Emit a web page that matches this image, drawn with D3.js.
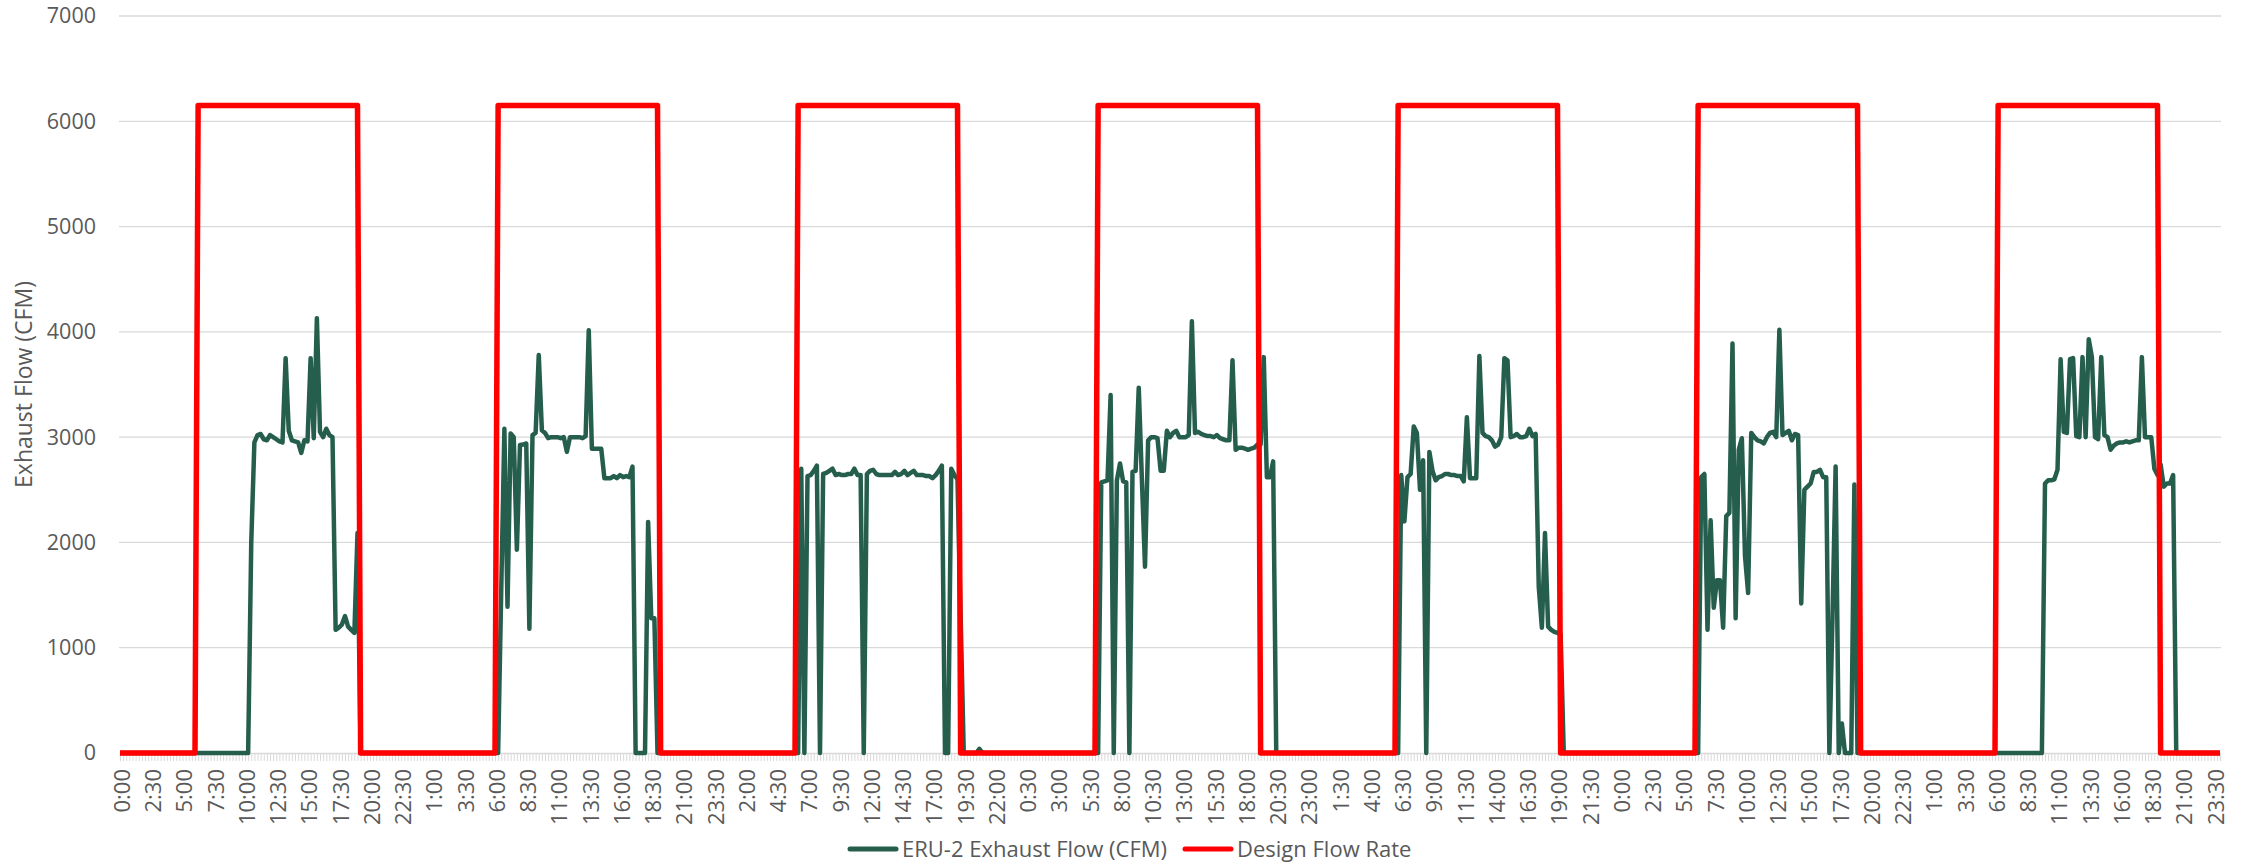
<!DOCTYPE html>
<html>
<head>
<meta charset="utf-8">
<script src="https://cdn.jsdelivr.net/npm/d3@7"></script>
<style>
  body { margin: 0; background: #fff; }
  text { font-family: "Open Sans", sans-serif; fill: #595959; }
</style>
</head>
<body>
<div id="chart"></div>
<script>

// ERU-2 exhaust flow, 15 minute readings, one array per day (96 values)
var flowDay1 = [
  0,0,0,0,0,0,0,0,0,0,0,0,0,0,0,0,0,0,0,0,0,0,0,0,
  0,0,0,0,0,0,0,0,0,0,0,0,0,0,0,0,0,0,2000,2950,3020,3030,2980,2970,
  3020,3000,2980,2960,2950,3750,3060,2970,2960,2950,2850,2970,2960,3750,2990,4130,3050,3000,3080,3020,3000,1170,1190,1220,
  1300,1200,1170,1140,2090,0,0,0,0,0,0,0,0,0,0,0,0,0,0,0,0,0,0,0
];
var flowDay2 = [
  0,0,0,0,0,0,0,0,0,0,0,0,0,0,0,0,0,0,0,0,0,0,0,0,
  0,0,1550,3080,1390,3035,3000,1930,2925,2930,2940,1180,3020,3040,3780,3065,3040,2990,3000,3000,3000,2990,3000,2860,
  3000,3000,3000,3000,2990,3010,4015,2890,2890,2890,2890,2610,2610,2610,2630,2610,2640,2620,2630,2620,2720,0,0,0,
  0,2195,1280,1280,0,0,0,0,0,0,0,0,0,0,0,0,0,0,0,0,0,0,0,0
];
var flowDay3 = [
  0,0,0,0,0,0,0,0,0,0,0,0,0,0,0,0,0,0,0,0,0,0,0,0,
  0,0,2700,0,2630,2640,2680,2730,0,2650,2660,2680,2700,2640,2650,2640,2640,2650,2650,2700,2640,2640,0,2650,
  2680,2690,2650,2640,2640,2640,2640,2640,2670,2640,2650,2680,2640,2660,2680,2640,2640,2640,2630,2630,2610,2640,2680,2730,
  0,0,2700,2640,2600,1300,0,0,0,0,0,40,0,0,0,0,0,0,0,0,0,0,0,0
];
var flowDay4 = [
  0,0,0,0,0,0,0,0,0,0,0,0,0,0,0,0,0,0,0,0,0,0,0,0,
  0,0,2570,2580,2590,3400,0,2590,2750,2580,2570,0,2670,2680,3470,2600,1770,2970,3000,3000,2990,2680,2680,3060,
  3000,3040,3060,3000,3000,3000,3020,4100,3040,3050,3030,3020,3010,3010,3000,3020,2990,2980,2970,2970,3730,2880,2900,2900,
  2890,2880,2890,2900,2930,2930,3760,2620,2620,2770,0,0,0,0,0,0,0,0,0,0,0,0,0,0
];
var flowDay5 = [
  0,0,0,0,0,0,0,0,0,0,0,0,0,0,0,0,0,0,0,0,0,0,0,0,
  0,0,2640,2200,2620,2650,3100,3040,2500,2780,0,2860,2680,2590,2620,2630,2650,2650,2640,2640,2630,2630,2580,3190,
  2610,2610,2610,3770,3040,3010,3000,2970,2910,2930,3000,3750,3730,3000,3010,3030,3000,3000,3010,3080,3010,3030,1580,1190,
  2090,1200,1170,1150,1140,1130,0,0,0,0,0,0,0,0,0,0,0,0,0,0,0,0,0,0
];
var flowDay6 = [
  0,0,0,0,0,0,0,0,0,0,0,0,0,0,0,0,0,0,0,0,0,0,0,0,
  0,0,2620,2650,1170,2210,1380,1640,1640,1190,2250,2280,3890,1280,2880,2990,1870,1520,3040,3000,2970,2960,2940,3000,
  3040,3050,3000,4020,3020,3040,3060,2970,3030,3020,1420,2500,2530,2560,2670,2670,2690,2620,2620,0,1300,2720,0,280,
  0,0,0,2550,0,0,0,0,0,0,0,0,0,0,0,0,0,0,0,0,0,0,0,0
];
var flowDay7 = [
  0,0,0,0,0,0,0,0,0,0,0,0,0,0,0,0,0,0,0,0,0,0,0,0,
  0,0,0,0,0,0,0,0,0,0,0,0,0,0,0,0,2560,2590,2590,2600,2690,3740,3050,3040,
  3740,3750,3010,3000,3760,3000,3930,3760,3000,2980,3760,3020,3000,2880,2920,2940,2950,2950,2960,2950,2960,2970,2970,3760,
  3000,3000,3000,2700,2640,2740,2530,2560,2560,2640,0,0,0,0,0,0,0,0,0,0,0,0,0,0
];
var flowTail = [0];

// design flow schedule, same every day
var designDay = [
  0,0,0,0,0,0,0,0,0,0,0,0,0,0,0,0,0,0,0,0,0,0,0,0,
  0,6150,6150,6150,6150,6150,6150,6150,6150,6150,6150,6150,6150,6150,6150,6150,6150,6150,6150,6150,6150,6150,6150,6150,
  6150,6150,6150,6150,6150,6150,6150,6150,6150,6150,6150,6150,6150,6150,6150,6150,6150,6150,6150,6150,6150,6150,6150,6150,
  6150,6150,6150,6150,6150,0,0,0,0,0,0,0,0,0,0,0,0,0,0,0,0,0,0,0
];
var designTail = [0];

// labels shown on every 10th reading
var timeLabels = ["0:00","2:30","5:00","7:30","10:00","12:30","15:00","17:30","20:00","22:30",
  "1:00","3:30","6:00","8:30","11:00","13:30","16:00","18:30","21:00","23:30",
  "2:00","4:30","7:00","9:30","12:00","14:30","17:00","19:30","22:00",
  "0:30","3:00","5:30","8:00","10:30","13:00","15:30","18:00","20:30","23:00",
  "1:30","4:00","6:30","9:00","11:30","14:00","16:30","19:00","21:30",
  "0:00","2:30","5:00","7:30","10:00","12:30","15:00","17:30","20:00","22:30",
  "1:00","3:30","6:00","8:30","11:00","13:30","16:00","18:30","21:00","23:30"];
var labelStep = 10;
var yTicks = [0, 1000, 2000, 3000, 4000, 5000, 6000, 7000];

var flow = [].concat(flowDay1, flowDay2, flowDay3, flowDay4, flowDay5, flowDay6, flowDay7, flowTail);
var design = [].concat(designDay, designDay, designDay, designDay, designDay, designDay, designDay, designTail);

var width = 2249, height = 863;
var plotLeft = 120, plotRight = 2220, plotTop = 16, plotBottom = 753;

var svg = d3.select('#chart')
  .append('svg')
  .attr('width', width)
  .attr('height', height)
  .style('display', 'block');

var x = d3.scaleLinear().domain([0, flow.length - 1]).range([plotLeft, plotRight]);
var y = d3.scaleLinear().domain([0, 7000]).range([plotBottom, plotTop]);

// gridlines
svg.append('g')
  .selectAll('line')
  .data(yTicks.slice(1))
  .enter()
  .append('line')
  .attr('x1', plotLeft - 1)
  .attr('x2', plotRight + 1)
  .attr('y1', function(d) { return y(d); })
  .attr('y2', function(d) { return y(d); })
  .attr('stroke', '#d9d9d9')
  .attr('stroke-width', 1.3);

// y axis labels
var yAxis = svg.append('g')
  .attr('transform', 'translate(' + (plotLeft - 1) + ',0)')
  .call(d3.axisLeft(y).tickValues(yTicks).tickSize(0).tickPadding(23).tickFormat(d3.format('d')));
yAxis.select('.domain').remove();
yAxis.selectAll('text')
  .style('font-size', '21.5px')
  .style('font-family', '"Open Sans", sans-serif')
  .attr('fill', '#595959');

// x axis: tick on every reading, label on every 10th
var xAxis = svg.append('g')
  .attr('transform', 'translate(0,' + plotBottom + ')')
  .call(d3.axisBottom(x)
    .tickValues(d3.range(flow.length))
    .tickSize(8)
    .tickFormat(function(d) { return d % labelStep === 0 ? timeLabels[d / labelStep] : ''; }));
xAxis.select('.domain')
  .attr('stroke', '#d9d9d9')
  .attr('stroke-width', 1.3);
xAxis.selectAll('.tick line')
  .attr('stroke', '#d9d9d9');
xAxis.selectAll('text')
  .attr('y', 0)
  .attr('x', -16)
  .attr('dy', '0.42em')
  .attr('transform', 'rotate(-90)')
  .style('text-anchor', 'end')
  .style('font-size', '22px')
  .style('font-family', '"Open Sans", sans-serif')
  .attr('fill', '#595959');

// y title
svg.append('text')
  .attr('transform', 'translate(24,' + ((plotTop + plotBottom) / 2) + ') rotate(-90)')
  .attr('text-anchor', 'middle')
  .attr('dy', '0.35em')
  .style('font-size', '23px')
  .text('Exhaust Flow (CFM)');

var line = d3.line()
  .x(function(d, i) { return x(i); })
  .y(function(d) { return y(d); });

svg.append('path')
  .datum(flow)
  .attr('d', line)
  .attr('fill', 'none')
  .attr('stroke', '#265e4d')
  .attr('stroke-width', 4.5)
  .attr('stroke-linejoin', 'round');

svg.append('path')
  .datum(design)
  .attr('d', line)
  .attr('fill', 'none')
  .attr('stroke', '#ff0000')
  .attr('stroke-width', 5.5)
  .attr('stroke-linejoin', 'round');

// legend
var legendItems = [
  { name: 'ERU-2 Exhaust Flow (CFM)', color: '#265e4d', x: 850 },
  { name: 'Design Flow Rate', color: '#ff0000', x: 1185 }
];
var legend = svg.selectAll('.legend')
  .data(legendItems)
  .enter()
  .append('g')
  .attr('class', 'legend')
  .attr('transform', function(d) { return 'translate(' + d.x + ',849)'; });
legend.append('line')
  .attr('x1', 0)
  .attr('x2', 46)
  .attr('stroke', function(d) { return d.color; })
  .attr('stroke-width', 5)
  .attr('stroke-linecap', 'round');
legend.append('text')
  .attr('x', 52)
  .attr('dy', '0.35em')
  .style('font-size', '22px')
  .text(function(d) { return d.name; });

</script>
</body>
</html>
